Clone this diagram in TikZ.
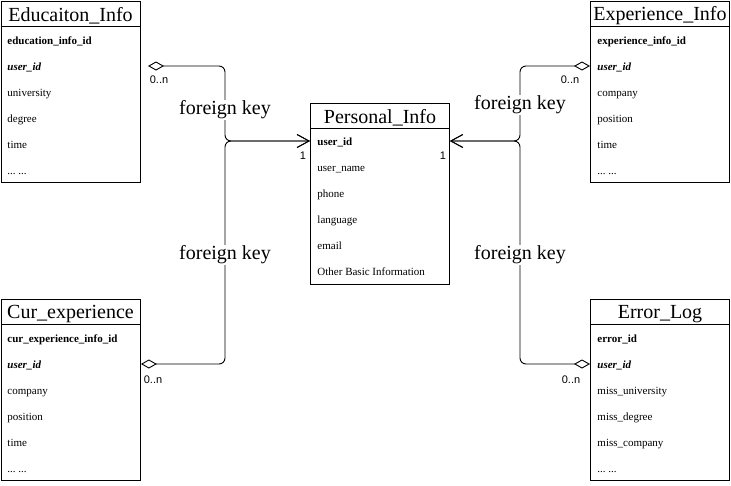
\documentclass[tikz,border=0pt]{standalone}
\usepackage{fontspec}
\setmainfont{Liberation Serif}
\setsansfont{Liberation Sans}
\usetikzlibrary{arrows.meta}

\newcommand{\etcdots}{...\ ...}

\tikzset{
    tbl/.style={draw, rectangle, anchor=north west,
        minimum width=139pt, minimum height=181pt, inner sep=0pt},
    head/.style={font=\fontsize{20}{20}\selectfont, inner sep=0pt},
    row/.style={font=\fontsize{11}{11}\selectfont, anchor=west,
        inner sep=0pt, text height=11pt, text depth=3pt},
    fk/.style={font=\fontsize{20}{20}\selectfont, fill=white, inner sep=1pt},
    card/.style={font=\sffamily\fontsize{11}{11}\selectfont, inner sep=0pt},
    conn/.style={rounded corners=6pt,
        {Diamond[open, length=16pt, width=9pt]}-{Straight Barb[length=12pt, width=13pt]}}
}

\begin{document}
\begin{tikzpicture}[x=1pt, y=-1pt, line width=0.9pt]
    \useasboundingbox (0,0) rectangle (731,485);

    % tables
    \node[tbl] (edu) at (1,1) {};
    \draw (1,26) -- (140,26);
    \node[head] (edu-h) at (70.5,16) {Educaiton\_Info};
    \foreach \t [count=\i] in {\textbf{education\_info\_id}, \textbf{\textit{user\_id}},
        university, degree, time, \etcdots}
        \node[row] (edu-\i) at (7, {1+39+26*(\i-1)}) {\t};

    \node[tbl] (per) at (310,103) {};
    \draw (310,128) -- (450,128);
    \node[head] (per-h) at (380,118) {Personal\_Info};
    \foreach \t [count=\i] in {\textbf{user\_id}, user\_name, phone,
        language, email, Other Basic Information}
        \node[row] (per-\i) at (317, {103+38+26*(\i-1)}) {\t};

    \node[tbl] (exp) at (590,1) {};
    \draw (590,26) -- (730,26);
    \node[head] (exp-h) at (660,16) {Experience\_Info};
    \foreach \t [count=\i] in {\textbf{experience\_info\_id}, \textbf{\textit{user\_id}},
        company, position, time, \etcdots}
        \node[row] (exp-\i) at (597, {1+39+26*(\i-1)}) {\t};

    \node[tbl] (cur) at (1,299) {};
    \draw (1,324) -- (140,324);
    \node[head] (cur-h) at (70.5,314) {Cur\_experience};
    \foreach \t [count=\i] in {\textbf{cur\_experience\_info\_id}, \textbf{\textit{user\_id}},
        company, position, time, \etcdots}
        \node[row] (cur-\i) at (7, {299+39+26*(\i-1)}) {\t};

    \node[tbl] (err) at (590,299) {};
    \draw (590,324) -- (730,324);
    \node[head] (err-h) at (660,314) {Error\_Log};
    \foreach \t [count=\i] in {\textbf{error\_id}, \textbf{\textit{user\_id}},
        miss\_university, miss\_degree, miss\_company, \etcdots}
        \node[row] (err-\i) at (597, {299+39+26*(\i-1)}) {\t};

    % connectors
    \coordinate (edu-a) at (148,66);
    \draw[conn] (edu-a) -- (225,66) -- (225,141) -- (per.west |- per-1);
    \draw[conn] (cur.east |- cur-2) -- (225,364) -- (225,141) -- (per.west |- per-1);
    \draw[conn] (exp.west |- exp-2) -- (520,66) -- (520,141) -- (per.east |- per-1);
    \draw[conn] (err.west |- err-2) -- (520,364) -- (520,141) -- (per.east |- per-1);

    % labels
    \node[fk] (fk-1) at (225,110) {foreign key};
    \node[fk] (fk-2) at (225,255) {foreign key};
    \node[fk] (fk-3) at (520,105) {foreign key};
    \node[fk] (fk-4) at (520,255) {foreign key};

    \node[card] (n-1) at (159,80) {0..n};
    \node[card] (n-2) at (153,380) {0..n};
    \node[card] (n-3) at (570,80) {0..n};
    \node[card] (n-4) at (571,380) {0..n};
    \node[card] (one-1) at (303,156) {1};
    \node[card] (one-2) at (443,156) {1};

\end{tikzpicture}
\end{document}
